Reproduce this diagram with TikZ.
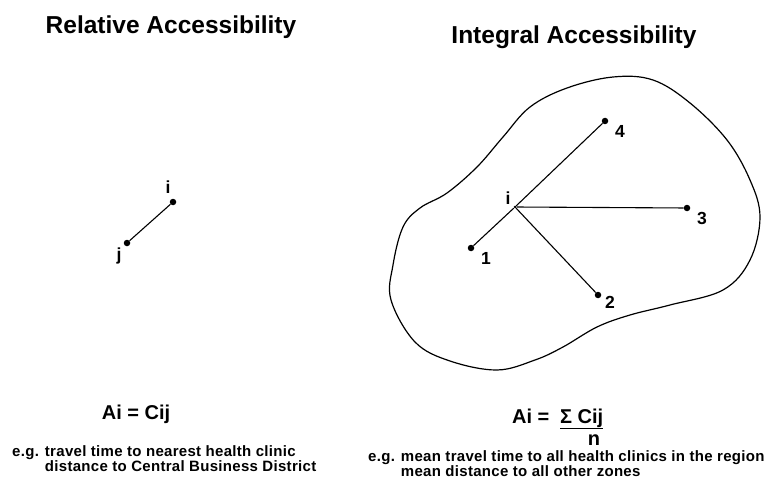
\documentclass[tikz,border=0pt]{standalone}
\usepackage{fontspec}
\setmainfont{Liberation Sans}
\newfontfamily\widefont[LetterSpace=2]{Liberation Sans}
\usetikzlibrary{positioning}
\tikzset{font=\bfseries}

\begin{document}
\begin{tikzpicture}[x=1pt, y=-1pt]
	\useasboundingbox (0, 0) rectangle (774, 492);
	\tikzstyle{every node}=[inner sep=0pt]
	\tikzstyle{dot}=[circle, fill, inner sep=0pt, minimum size=6.5pt]
	\tikzstyle{link}=[line width=1.1pt]
	\tikzstyle{ptlabel}=[font=\fontsize{17.5}{20}\selectfont\bfseries]
	\tikzstyle{heading}=[anchor=base, font=\fontsize{24.5}{28}\selectfont\bfseries]
	\tikzstyle{formula}=[font=\fontsize{20}{22}\selectfont\bfseries]
	\tikzstyle{example}=[anchor=base west, align=left, font=\fontsize{15}{14.5}\selectfont\widefont\bfseries]

	% headings
	\node[heading] (relttl) at (171, 34) {Relative Accessibility};
	\node[heading] (intttl) at (574, 44) {Integral Accessibility};

	% relative: one pair of points
	\node[dot] (ri) at (173, 202) {};
	\node[dot] (rj) at (127, 243) {};
	\node[ptlabel] (rilbl) at (168, 187) {i};
	\node[ptlabel] (rjlbl) at (119, 256) {j};
	\draw [link] (ri) to (rj);

	% integral: region with point i and four zones
	\draw [line width=1.2pt] plot [smooth cycle, tension=0.6] coordinates {
		(567, 88) (613, 77) (653, 80) (690, 103) (727, 140) (750, 180)
		(760, 217) (750, 260) (723, 290) (670, 305) (630, 315) (597, 327)
		(563, 347) (535, 360) (497, 370) (450, 361) (415, 342)
		(391, 300) (393, 265) (403, 227) (420, 208) (447, 193) (477, 167)
		(503, 137) (530, 107)};

	\node[dot, minimum size=3pt] (ii) at (515, 207) {};
	\node[dot] (z1) at (471, 248) {};
	\node[dot] (z2) at (598, 295) {};
	\node[dot] (z3) at (687, 208) {};
	\node[dot] (z4) at (605, 121) {};

	\node[ptlabel] (iilbl) at (508, 198) {i};
	\node[ptlabel] (z1lbl) at (486, 258) {1};
	\node[ptlabel] (z2lbl) at (610, 302) {2};
	\node[ptlabel] (z3lbl) at (702, 218) {3};
	\node[ptlabel] (z4lbl) at (620, 131) {4};

	\draw [link] (ii) to (z1);
	\draw [link] (ii) to (z2);
	\draw [link] (ii) to (z3);
	\draw [link] (ii) to (z4);

	% formulas
	\node[formula, anchor=base] (relai) at (136, 419) {Ai = Cij};
	\node[formula, anchor=base west] (intai) at (512, 423) {Ai =};
	\node[formula, anchor=base west] (intsum) at (560, 423) {\underline{Σ Cij}};
	\node[formula, anchor=base] (intn) at (594, 445) {n};

	% examples
	\node[example] (relex) at (12, 464) {\begin{tabular}{@{}l@{\hspace{6pt}}l@{}}
		e.g. & travel time to nearest health clinic\\
		& distance to Central Business District
	\end{tabular}};
	\node[example] (intex) at (368, 469) {\begin{tabular}{@{}l@{\hspace{6pt}}l@{}}
		e.g. & mean travel time to all health clinics in the region\\
		& mean distance to all other zones
	\end{tabular}};
\end{tikzpicture}
\end{document}
